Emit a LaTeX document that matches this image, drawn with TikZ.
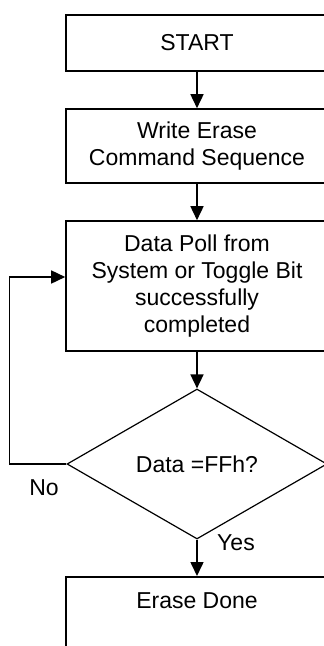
\documentclass[tikz,border=0pt]{standalone}
\usepackage{fontspec}
\setmainfont{Liberation Sans}
\usetikzlibrary{shapes.geometric,arrows.meta}
\tikzset{
  procbox/.style={draw, line width=1.6pt, minimum width=262pt, inner sep=0pt, align=center,
    font=\fontsize{23}{27}\selectfont},
  decbox/.style={draw, diamond, line width=1.2pt, minimum width=260pt, minimum height=150pt,
    inner sep=0pt, font=\fontsize{23}{27}\selectfont},
  flow/.style={line width=1.6pt, -{Triangle[length=14pt,width=13pt]}},
  lbl/.style={inner sep=0pt, font=\fontsize{23}{27}\selectfont}
}
\begin{document}
\begin{tikzpicture}[x=1pt,y=1pt]
\useasboundingbox (0,0) rectangle (324,-646);
\fill[white] (0,0) rectangle (324,-646);
\clip (0,0) rectangle (324,-646);
\node[procbox, minimum height=56pt] (start) at (197,-43) {START};
\node[procbox, minimum height=74pt] (write) at (197,-146) {Write Erase\\Command Sequence};
\node[procbox, minimum height=130pt] (poll) at (197,-286) {Data Poll from\\System or Toggle Bit\\successfully\\completed};
\node[decbox] (dec) at (197,-464) {Data =FFh?};
\node[procbox, anchor=north, text height=32pt, text depth=80pt] (done) at (197,-576) {Erase Done};
\node[lbl] (no) at (44,-488) {No};
\node[lbl] (yes) at (236,-543) {Yes};
\draw[flow] (start.south) -- (write.north);
\draw[flow] (write.south) -- (poll.north);
\draw[flow] (poll.south) -- (dec.north);
\draw[flow] (dec.south) -- (done.north);
\draw[flow] (dec.west) -- ++(-57,0) |- ([yshift=9pt]poll.west);
\end{tikzpicture}
\end{document}
